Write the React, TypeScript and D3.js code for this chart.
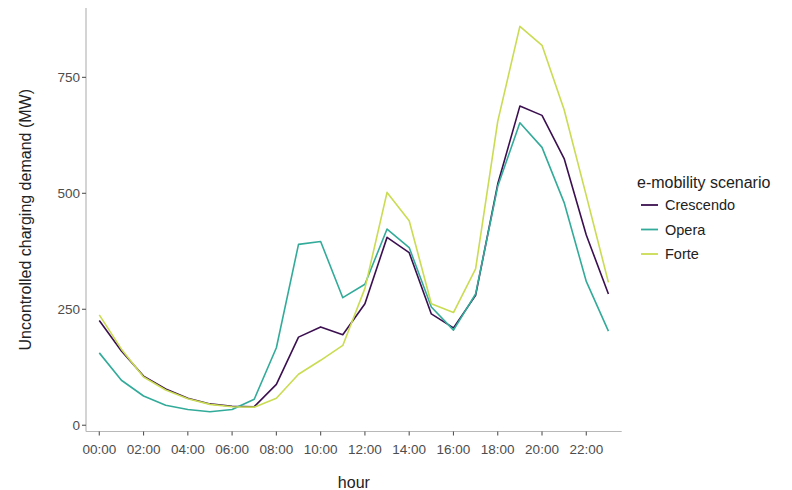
import React from "react";
import * as d3 from "d3";

const hours = d3.range(0, 24);
const tickHours = [0, 2, 4, 6, 8, 10, 12, 14, 16, 18, 20, 22];
const yTicks = [0, 250, 500, 750];
const scenarios = ["Crescendo", "Opera", "Forte"];
const colors = ["#3b0f50", "#33ab9a", "#c9dc52"];

const crescendo = [226, 160, 106, 78, 58, 46, 41, 40, 88, 190, 212, 195, 262, 405, 372, 240, 210, 280, 520, 688, 668, 575, 410, 283];
const opera = [156, 97, 63, 43, 34, 29, 34, 56, 167, 390, 396, 275, 304, 423, 383, 255, 205, 283, 515, 652, 599, 480, 310, 203];
const forte = [238, 164, 104, 76, 57, 45, 40, 39, 58, 110, 140, 172, 295, 502, 441, 262, 243, 337, 655, 860, 819, 680, 495, 308];

const seriesValues = [crescendo, opera, forte];

const fmtHour = (h: number) => (h < 10 ? "0" + h : "" + h) + ":00";

export default function App() {
  const W = 792, H = 490;
  const left = 86, right = 621.7, top = 8, bottom = 431.5;
  const x = d3.scaleLinear().domain([-0.6, 23.6]).range([left, right]);
  const y = d3.scaleLinear().domain([-13.5, 899.5]).range([bottom, top]);
  const line = d3.line<number>().x((_, i) => x(hours[i])).y((d) => y(d));
  const axisColor = "#b8b8b8";
  const tickText = "#4d4d4d";
  const font = "Liberation Sans, Arial, Helvetica, sans-serif";

  return (
    <div style={{ position: "fixed", left: 0, top: 0, background: "#fff" }}>
      <svg width={W} height={H} style={{ display: "block" }} fontFamily={font}>
        <rect width={W} height={H} fill="#fff" />
        {/* axes */}
        <line x1={left} x2={left} y1={top} y2={bottom} stroke={axisColor} strokeWidth={1.2} />
        <line x1={left} x2={right} y1={bottom} y2={bottom} stroke={axisColor} strokeWidth={1.2} />
        {yTicks.map((t) => (
          <g key={"y" + t}>
            <line x1={left - 4} x2={left} y1={y(t)} y2={y(t)} stroke="#555" strokeWidth={1.1} />
            <text x={left - 6} y={y(t)} dy="0.35em" textAnchor="end" fontSize={13.5} fill={tickText}>
              {t}
            </text>
          </g>
        ))}
        {tickHours.map((h) => (
          <g key={"x" + h}>
            <line x1={x(h)} x2={x(h)} y1={bottom} y2={bottom + 4} stroke="#555" strokeWidth={1.1} />
            <text x={x(h)} y={bottom + 22} textAnchor="middle" fontSize={13.5} fill={tickText}>
              {fmtHour(h)}
            </text>
          </g>
        ))}
        {/* titles */}
        <text x={left + (right - left) / 2} y={488} textAnchor="middle" fontSize={16} fill="#222">
          hour
        </text>
        <text
          transform={`translate(31,${(top + bottom) / 2}) rotate(-90)`}
          textAnchor="middle"
          fontSize={16}
          fill="#222"
        >
          Uncontrolled charging demand (MW)
        </text>
        {/* lines */}
        {seriesValues.map((vals, i) => (
          <path key={scenarios[i]} d={line(vals) || ""} fill="none" stroke={colors[i]} strokeWidth={1.6} strokeLinejoin="round" />
        ))}
        {/* legend */}
        <text x={637} y={188} fontSize={16} fill="#222">
          e-mobility scenario
        </text>
        {scenarios.map((s, i) => (
          <g key={"lg" + s} transform={`translate(0,${205 + i * 24.5})`}>
            <line x1={641} x2={658} y1={0} y2={0} stroke={colors[i]} strokeWidth={1.8} />
            <text x={665} y={0} dy="0.35em" fontSize={14.5} fill="#222">
              {s}
            </text>
          </g>
        ))}
      </svg>
    </div>
  );
}
